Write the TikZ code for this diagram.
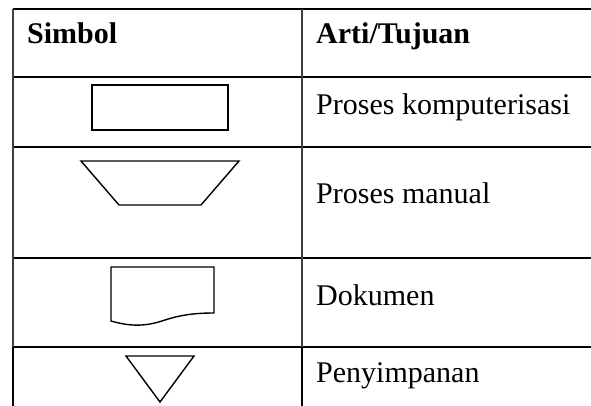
\documentclass[tikz,border=0pt]{standalone}
\usepackage{fontspec}
\setmainfont{Liberation Serif}
\begin{document}
\begin{tikzpicture}[x=1pt,y=-1pt,
  rule/.style={line width=1.8pt},
  vrule/.style={line width=1.1pt},
  sym/.style={line width=1.4pt, line join=miter},
  txt/.style={anchor=base west, inner sep=0pt, font=\fontsize{30}{36}\selectfont},
  head/.style={txt, font=\fontsize{30}{36}\selectfont\bfseries}]
\useasboundingbox[fill=white] (0,0) rectangle (591,406);
% horizontal rules
\draw[rule] (13,9) -- (591,9);
\draw[rule] (13,77) -- (591,77);
\draw[rule] (13,147) -- (591,147);
\draw[rule] (13,258) -- (591,258);
\draw[rule] (13,347) -- (591,347);
% vertical rules
\draw[vrule, black!75] (13,9) -- (13,347);
\draw[vrule] (13,347) -- (13,406);
\draw[vrule, black!75] (302,9) -- (302,347);
\draw[vrule] (302,347) -- (302,406);
% texts
\node[head] (h1) at (27,44) {Simbol};
\node[head] (h2) at (316,44) {Arti/Tujuan};
\node[txt] (t1) at (316,115) {Proses komputerisasi};
\node[txt] (t2) at (316,203) {Proses manual};
\node[txt] (t3) at (316,305) {Dokumen};
\node[txt] (t4) at (316,382) {Penyimpanan};
% symbols
\draw[sym] (92,85) rectangle (228,130);
\draw[sym] (81,161) -- (239,161) -- (201,205) -- (119,205) -- cycle;
\draw[sym] (111,321) -- (111,267) -- (214,267) -- (214,313)
  .. controls (195,313) and (180,315) .. (165,320)
  .. controls (150,325) and (135,328) .. (111,321) -- cycle;
\draw[sym] (126,356) -- (194,356) -- (160,402) -- cycle;
\end{tikzpicture}
\end{document}
